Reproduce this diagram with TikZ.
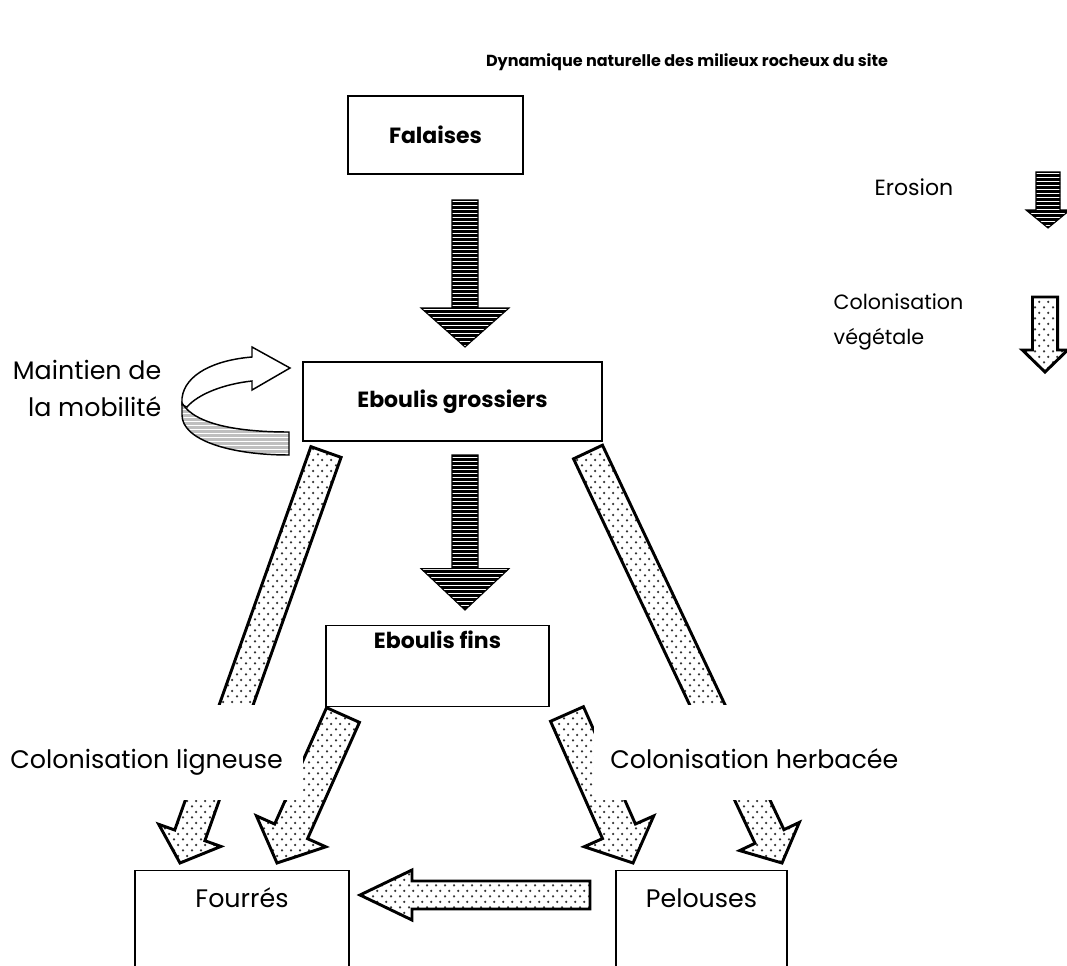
\documentclass[tikz,border=0pt]{standalone}
\usepackage{fontspec}
\setmainfont{Poppins}
\usetikzlibrary{calc,patterns,positioning}

% fill patterns
\pgfdeclarepatternformonly{stripes}{\pgfpoint{-1pt}{0pt}}{\pgfpoint{31pt}{3pt}}{\pgfpoint{30pt}{3pt}}
{\pgfpathrectangle{\pgfpoint{-1pt}{0pt}}{\pgfpoint{32pt}{2.2pt}}\pgfusepath{fill}}
\pgfdeclarepatternformonly{stipple}{\pgfpointorigin}{\pgfpoint{6.8pt}{8.5pt}}{\pgfpoint{6.8pt}{8.5pt}}
{\pgfpathcircle{\pgfpoint{1.7pt}{2.1pt}}{1pt}\pgfpathcircle{\pgfpoint{5.1pt}{6.35pt}}{1pt}\pgfusepath{fill}}

% block arrow: style, tail, tip, half shaft, half head, head length
\newcommand\blockarrow[6]{%
  \coordinate (bh) at ($(#3)!#6!(#2)$);
  \draw[#1] ($(#2)!#4!90:(#3)$) -- ($(bh)!#4!90:(#3)$) -- ($(bh)!#5!90:(#3)$) -- (#3)
    -- ($(bh)!#5!-90:(#3)$) -- ($(bh)!#4!-90:(#3)$) -- ($(#2)!#4!-90:(#3)$) -- cycle;}

\begin{document}
\begin{tikzpicture}[x=0.75pt,y=-0.75pt,
    box/.style={draw,line width=1.1pt,inner sep=0pt},
    erosion/.style={draw,line width=0.8pt,line join=miter,preaction={fill=white},pattern=stripes,pattern color=black},
    colon/.style={draw,line width=2.2pt,line join=miter,preaction={fill=white},pattern=stipple,pattern color=black!80},
    txt/.style={font=\fontsize{19}{27.75}\selectfont},
    lab/.style={font=\bfseries\fontsize{16.5}{20}\selectfont}]
\useasboundingbox (0,0) rectangle (1067,965);

\node[font=\bfseries\fontsize{12}{14}\selectfont] (titre) at (687,62) {Dynamique naturelle des milieux rocheux du site};

% milieux
\node[box,lab,minimum width=131.25pt,minimum height=58.5pt] (falaises) at (435.5,135) {Falaises};
\node[box,lab,minimum width=224.25pt,minimum height=59.25pt] (grossiers) at (452.5,401.5) {Eboulis grossiers};
\node[box,lab,minimum width=167.25pt,text height=17.25pt,text depth=43.5pt,anchor=north] (fins) at (437.5,625) {Eboulis fins};
\node[box,txt,minimum width=160.5pt,text height=27.75pt,text depth=66pt,anchor=north] (fourres) at (242,870) {Fourrés};
\node[box,txt,minimum width=128.25pt,text height=27.75pt,text depth=66pt,anchor=north] (pelouses) at (701.5,870) {Pelouses};

% erosion
\coordinate (e1) at (465,200); \coordinate (e2) at (465,347);
\coordinate (e3) at (465,455); \coordinate (e4) at (465,610);
\blockarrow{erosion}{e1}{e2}{9.75pt}{33pt}{29.25pt}
\blockarrow{erosion}{e3}{e4}{9.75pt}{33pt}{31pt}

% colonisation
\coordinate (lg1) at (326,452); \coordinate (lg2) at (180,863);
\coordinate (ls1) at (343,715); \coordinate (ls2) at (277,863);
\coordinate (rs1) at (567,714); \coordinate (rs2) at (633,863);
\coordinate (rg1) at (588,452); \coordinate (rg2) at (782,863);
\foreach \a/\b/\w/\h/\l in {lg1/lg2/12pt/24.75pt/22pt,ls1/ls2/13.5pt/28.5pt/26pt,
                           rs1/rs2/13.5pt/28.5pt/26pt,rg1/rg2/12pt/24.75pt/22pt}
  \blockarrow{colon}{\a}{\b}{\w}{\h}{\l}
\coordinate (h1) at (590,895); \coordinate (h2) at (360,895);
\blockarrow{colon}{h1}{h2}{10.5pt}{18.75pt}{39pt}

\node[txt,fill=white,inner xsep=15pt,inner ysep=0pt,text height=47.25pt,text depth=24pt,anchor=east] (ligneuse) at (303,752.5) {Colonisation ligneuse};
\node[txt,fill=white,inner xsep=12pt,inner ysep=0pt,text height=47.25pt,text depth=24pt,anchor=west] (herbacee) at (594,752.5) {Colonisation herbacée};

% maintien de la mobilite
\draw[line width=1.1pt,fill=white] (182,405) -- (182,398) .. controls (185,374) and (215,360) .. (252,357)
  -- (252,347) -- (290,368) -- (252,390) -- (252,381) .. controls (224,384) and (198,394) .. (187,407) -- cycle;
\draw[line width=1.1pt,preaction={fill=white},pattern=stripes,pattern color=black!25]
  (182,403) .. controls (195,425) and (240,432) .. (289,432) -- (289,455) .. controls (230,455) and (182,440) .. (182,415) -- cycle;
\node[txt,align=right,anchor=east] (maintien) at (166,388) {Maintien de\\la mobilité};

% legende
\node[font=\fontsize{16.5}{26}\selectfont,anchor=east] (lerosion) at (958,187) {Erosion};
\coordinate (le1) at (1048,172); \coordinate (le2) at (1048,228);
\blockarrow{erosion}{le1}{le2}{9pt}{16.5pt}{13.5pt}
\node[font=\fontsize{15.5}{26}\selectfont,align=left,anchor=west] (lcolon) at (829,322) {Colonisation\\végétale};
\coordinate (lc1) at (1045,297); \coordinate (lc2) at (1045,372);
\blockarrow{colon}{lc1}{lc2}{9.4pt}{17pt}{16.5pt}
\end{tikzpicture}
\end{document}
